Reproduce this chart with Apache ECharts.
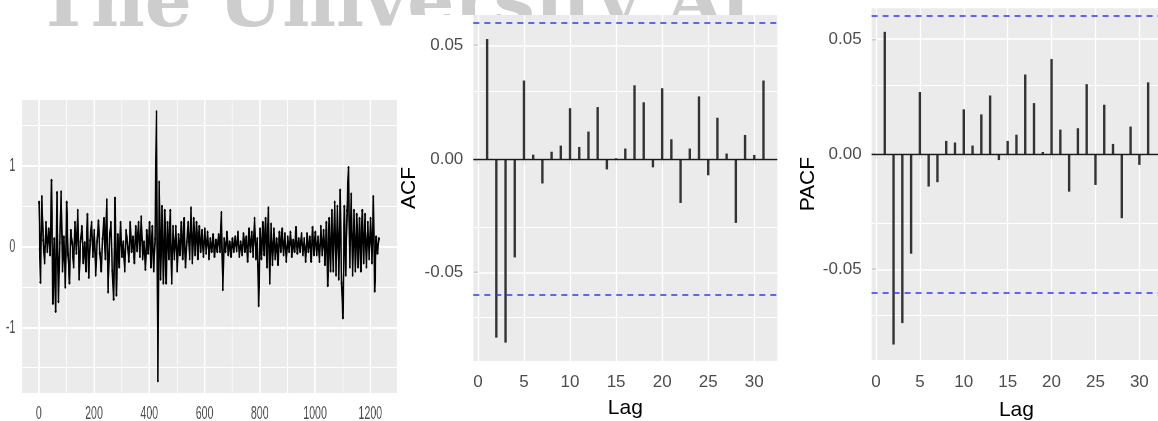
<!DOCTYPE html>
<html><head><meta charset="utf-8">
<script src="https://cdn.jsdelivr.net/npm/echarts@6/dist/echarts.min.js"></script>
<style>
html,body{margin:0;padding:0;background:#fff;overflow:hidden;}
#main{position:absolute;left:0;top:0;width:1158px;height:421px;}
#left{position:absolute;left:0;top:0;width:714px;height:421px;transform:scaleX(0.56);transform-origin:0 0;}
</style></head><body>
<div id="main"></div><div id="left"></div>
<script>
// ---------- data ----------
const watermarkText = 'The University At';
const timeStart = 1, timeStep = 5;   // time index of each sampled observation
const seriesValues = [
 0.55,-0.44,0.62,0.08,-0.2,0.3,-0.06,0.22,-0.1,0.82,
 -0.7,0.1,-0.8,0.67,-0.68,0.05,0.68,-0.3,0.12,-0.5,
 0.55,-0.1,-0.45,0.2,0.04,-0.25,0.3,-0.08,0.45,-0.4,
 0.06,0.25,-0.2,0.05,-0.3,0.4,-0.38,0.08,0.3,-0.12,
 0.2,-0.35,0.06,0.32,-0.08,-0.3,0.1,0.35,-0.15,0.58,
 -0.56,0.1,0.3,-0.3,-0.65,0.6,-0.6,0.15,-0.25,0.3,
 -0.12,0.06,-0.3,0.2,0.05,-0.18,0.3,-0.06,0.12,-0.2,
 0.25,-0.05,0.3,-0.12,0.37,-0.15,0.06,-0.28,0.2,-0.08,
 0.3,-0.25,0.25,-0.3,0.1,1.67,-1.66,0.8,-0.4,0.5,
 -0.45,0.45,-0.45,0.3,-0.15,0.45,-0.45,0.25,-0.15,0.25,
 -0.3,0.15,-0.1,0.3,-0.15,0.35,-0.25,0.06,0.3,-0.15,
 0.48,-0.2,0.35,-0.1,0.3,-0.15,0.25,-0.06,0.2,-0.12,
 0.22,-0.08,0.18,-0.15,0.1,-0.06,0.15,-0.12,0.08,-0.06,
 0.15,-0.06,0.42,-0.53,0.1,-0.06,0.18,-0.1,0.06,-0.12,
 0.1,-0.06,0.12,-0.05,0.18,-0.12,0.06,-0.1,0.16,-0.06,
 0.12,-0.18,0.22,-0.06,0.18,-0.12,0.35,-0.15,0.1,-0.73,
 0.22,-0.15,0.3,-0.1,0.35,-0.25,0.48,-0.45,0.28,-0.22,
 0.22,-0.15,0.1,-0.22,0.18,-0.06,0.22,-0.1,0.16,-0.18,
 0.12,-0.06,0.18,-0.12,0.08,-0.06,0.24,-0.08,0.1,-0.06,
 0.16,-0.1,0.1,-0.18,0.16,-0.06,0.12,-0.18,0.24,-0.1,
 0.18,-0.1,0.12,-0.18,0.25,-0.1,0.2,-0.22,0.3,-0.48,
 0.35,-0.3,0.45,-0.3,0.55,-0.35,0.5,-0.4,0.7,-0.45,
 -0.88,0.5,-0.35,0.45,0.98,-0.25,0.65,-0.35,0.45,-0.3,
 0.4,-0.25,0.35,-0.3,0.45,-0.2,0.4,-0.25,0.3,-0.15,
 0.35,-0.2,0.62,-0.55,0.12,-0.08,0.1
];
const tsTicksX = [0, 200, 400, 600, 800, 1000, 1200];
const tsTicksY = [-1, 0, 1];

const lags = [1,2,3,4,5,6,7,8,9,10,11,12,13,14,15,16,17,18,19,20,21,22,23,24,25,26,27,28,29,30,31];
const acfValues = [0.0529,-0.0788,-0.081,-0.0434,0.0346,0.0019,-0.0108,0.0032,0.0059,0.0224,
  0.0053,0.0121,0.0229,-0.0046,0.0003,0.0046,0.0325,0.025,-0.0037,0.0312,
  0.0087,-0.0194,0.0046,0.0276,-0.0072,0.0182,0.0024,-0.0282,0.0106,0.0018,0.0346];
const pacfValues = [0.0531,-0.0825,-0.0732,-0.0431,0.027,-0.014,-0.0121,0.0058,0.0051,0.0195,
  0.0038,0.0173,0.0255,-0.0025,0.0058,0.0085,0.0346,0.0222,0.001,0.0413,
  0.0107,-0.0162,0.0113,0.0304,-0.0133,0.0215,0.0045,-0.0277,0.012,-0.0046,0.0312];
const ciBound = 0.0561;
const lagTicks = [0, 5, 10, 15, 20, 25, 30];
const corrTicks = [-0.05, 0, 0.05];
const corrMinor = [-0.075, -0.025, 0.025];

// ---------- helpers ----------
const labelFont = 'Liberation Sans, Arial, sans-serif';
function gridLineSeries(xi, vx, hy) {
  const data = [];
  vx.forEach(v => data.push({xAxis: v[0], lineStyle: {width: v[1]}}));
  hy.forEach(v => data.push({yAxis: v[0], lineStyle: {width: v[1]}}));
  return {
    type: 'line', xAxisIndex: xi, yAxisIndex: xi, data: [], z: 1, silent: true,
    markLine: {
      z: 1, silent: true, symbol: ['none', 'none'], label: {show: false}, animation: false,
      emphasis: {disabled: true},
      lineStyle: {color: '#ffffff', type: 'solid'},
      data: data
    }
  };
}
function valueAxis(opts) {
  return Object.assign({
    type: 'value', splitLine: {show: false}, axisLine: {show: false},
    minorSplitLine: {show: false}
  }, opts);
}

// ---------- left: time series (drawn wide, then squeezed horizontally like the reference) ----------
const S = 0.56;
const tsData = seriesValues.map((v, i) => [timeStart + timeStep * i, v]);
const leftChart = echarts.init(document.getElementById('left'), null, {renderer: 'canvas'});
const tsVx = [];
for (const t of tsTicksX) tsVx.push([t, 2.6]);
[100, 300, 500, 700, 900, 1100].forEach(t => tsVx.push([t, 1.3]));
const tsHy = [];
for (const t of tsTicksY) tsHy.push([t, 1.9]);
[-1.5, -0.5, 0.5, 1.5].forEach(t => tsHy.push([t, 1.0]));
leftChart.setOption({
  animation: false,
  backgroundColor: 'transparent',
  grid: [{left: 22 / S, top: 100, width: 375 / S, height: 293, show: true,
          backgroundColor: '#EBEBEB', borderWidth: 0, containLabel: false, outerBoundsMode: 'none'}],
  xAxis: [valueAxis({min: -60.7, max: 1296.7,
    axisTick: {show: true, customValues: tsTicksX, length: 4, lineStyle: {color: '#333', width: 1.8}},
    axisLabel: {customValues: tsTicksX, color: '#4d4d4d', fontSize: 19, margin: 11, fontFamily: labelFont,
      formatter: v => String(v)}})],
  yAxis: [valueAxis({min: -1.813, max: 1.818,
    axisTick: {show: true, customValues: tsTicksY, length: 8, lineStyle: {color: '#333', width: 1}},
    axisLabel: {customValues: tsTicksY, color: '#4d4d4d', fontSize: 19, margin: 12, fontFamily: labelFont,
      formatter: v => String(v)}})],
  series: [
    gridLineSeries(0, tsVx, tsHy),
    {type: 'line', data: tsData, z: 3, silent: true,
     lineStyle: {color: '#000', width: 2.8},
     symbol: 'circle', symbolSize: 3.4, showSymbol: true,
     itemStyle: {color: '#000'}}
  ]
});

// ---------- right: ACF and PACF ----------
const mainChart = echarts.init(document.getElementById('main'), null, {renderer: 'canvas'});
const corrVx = lagTicks.map(t => [t, 1.3]);
const corrHy = corrTicks.map(t => [t, 1.6]).concat(corrMinor.map(t => [t, 1.1]));
function corrAxes(idx, yMin, yMax, yName, yGap, xGap, xMargin, yMargin) {
  return {
    x: valueAxis({gridIndex: idx, min: -0.5, max: 32.5,
      name: 'Lag', nameLocation: 'middle', nameGap: xGap,
      nameTextStyle: {fontSize: 21, color: '#000', fontFamily: labelFont},
      axisTick: {show: true, customValues: lagTicks, length: 5, lineStyle: {color: '#333', width: 1.2}},
      axisLabel: {customValues: lagTicks, color: '#4d4d4d', fontSize: 17, margin: xMargin, fontFamily: labelFont}}),
    y: valueAxis({gridIndex: idx, min: yMin, max: yMax,
      name: yName, nameLocation: 'middle', nameGap: yGap,
      nameTextStyle: {fontSize: 21, color: '#000', fontFamily: labelFont},
      axisTick: {show: true, customValues: corrTicks, length: 4, lineStyle: {color: '#333', width: 1.2}},
      axisLabel: {customValues: corrTicks, color: '#4d4d4d', fontSize: 17, margin: yMargin, fontFamily: labelFont,
        formatter: v => Number(v).toFixed(2)}})
  };
}
const a1 = corrAxes(0, -0.0891, 0.0635, 'ACF', 54, 37, 13, 10);
const a2 = corrAxes(1, -0.0892, 0.0633, 'PACF', 53, 40, 14, 10);
function corrSeries(idx, values) {
  return {
    type: 'bar', xAxisIndex: idx, yAxisIndex: idx, z: 3, silent: true,
    data: lags.map((l, i) => [l, values[i]]),
    barWidth: 2.4, itemStyle: {color: '#333333'},
    markLine: {
      z: 4, silent: true, symbol: ['none', 'none'], label: {show: false}, animation: false,
      emphasis: {disabled: true},
      data: [
        {yAxis: 0, lineStyle: {color: '#1a1a1a', width: 1.4, type: 'solid'}},
        {yAxis: ciBound, lineStyle: {color: '#3636ff', width: 1.5, type: [6, 5]}},
        {yAxis: -ciBound, lineStyle: {color: '#3636ff', width: 1.5, type: [6, 5]}}
      ]
    }
  };
}
mainChart.setOption({
  animation: false,
  backgroundColor: '#ffffff',
  graphic: [
    {type: 'text', x: 36, y: 7, z: -10, silent: true,
     style: {text: watermarkText, fontSize: 74, fontWeight: 'bold', fontFamily: 'DejaVu Serif', fill: '#cdcdcd',
             verticalAlign: 'middle', align: 'left'}},
    {type: 'rect', z: -9, silent: true, shape: {x: 398, y: 15, width: 392, height: 40},
     style: {fill: '#ffffff'}}
  ],
  grid: [
    {left: 473.3, top: 15, width: 304, height: 346, show: true, backgroundColor: '#EBEBEB',
     borderWidth: 0, containLabel: false, outerBoundsMode: 'none'},
    {left: 871.6, top: 8.3, width: 289.7, height: 351.7, show: true, backgroundColor: '#EBEBEB',
     borderWidth: 0, containLabel: false, outerBoundsMode: 'none'}
  ],
  xAxis: [a1.x, a2.x],
  yAxis: [a1.y, a2.y],
  series: [
    gridLineSeries(0, corrVx, corrHy),
    gridLineSeries(1, corrVx, corrHy),
    corrSeries(0, acfValues),
    corrSeries(1, pacfValues)
  ]
});
</script>
</body></html>
